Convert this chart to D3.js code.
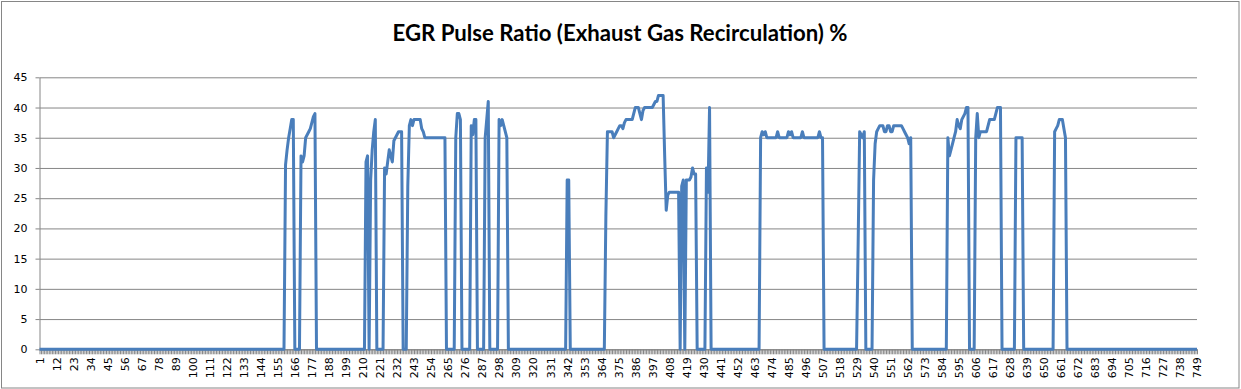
<!DOCTYPE html>
<html>
<head>
<meta charset="utf-8">
<script src="https://cdn.jsdelivr.net/npm/d3@7"></script>
<style>
  body { margin: 0; background: #fff; }
  .axis text { font-family: "DejaVu Sans", sans-serif; font-size: 11px; fill: #000; }
  .axis path, .axis line { stroke: #868686; }
</style>
</head>
<body>
<div id="chart-area"></div>
<script>
// Datos: 749 muestras, cero salvo en las ráfagas
const sampleCount = 749;
const burstStarts = [160, 170, 212, 224, 239, 270, 280, 289, 298, 342, 367, 432, 467, 530, 540, 588, 606, 632, 657];
const burstValues = [
  [30.5, 33, 35, 36.5, 38, 38],
  [32, 31, 32, 35, 35.5, 36, 36.5, 37.5, 38.5, 39],
  [31, 32, 0, 28, 33, 36, 38],
  [30, 29, 31, 33, 32, 31, 34.5, 35, 35.5, 36, 36, 36],
  [27, 37, 38, 37, 38, 38, 38, 38, 38, 36.5, 36, 35, 35, 35, 35, 35, 35, 35, 35, 35, 35, 35, 35, 35, 35],
  [35, 39, 39, 38],
  [37, 35.5, 38, 38],
  [35, 38, 41],
  [38, 37, 38, 37, 36, 35],
  [28, 28],
  [22, 36, 36, 36, 36, 35, 35.5, 36, 36.5, 37, 37, 36.5, 37.5, 38, 38, 38, 38, 38, 39, 40,
   40, 40, 39, 38, 39.5, 40, 40, 40, 40, 40, 40, 40.5, 41, 41, 42, 42, 42, 42, 32, 23,
   25.5, 26, 26, 26, 26, 26, 26, 26, 0, 27, 28, 0, 28, 28, 28, 28.5, 30, 29, 29],
  [30, 26, 40],
  [35, 36, 35.5, 36, 35, 35, 35, 35, 35, 35, 35, 36, 35, 35, 35, 35, 35, 35, 36, 35.5,
   36, 35, 35, 35, 35, 35, 35, 36, 35, 35, 35, 35, 35, 35, 35, 35, 35, 35, 36, 35, 35],
  [17, 36, 35.5, 35, 36],
  [28, 34, 36, 36.5, 37, 37, 37, 36, 36, 37, 37, 36, 36, 37, 37, 37, 37, 37, 37, 36.5, 36, 35.5, 35, 34, 35],
  [35, 32, 33, 34, 35, 36, 38, 37, 36.5, 38, 38.5, 39, 40, 40],
  [35, 39, 35, 36, 36, 36, 36, 36, 37, 38, 38, 38, 38, 39, 40, 40, 40],
  [35, 35, 35, 35, 35],
  [36, 36.5, 37, 38, 38, 38, 36.5, 35]
];
const yTicks = [0, 5, 10, 15, 20, 25, 30, 35, 40, 45];
const labelStep = 11;
const titleText = "EGR Pulse Ratio (Exhaust Gas Recirculation) %";

// Serie completa
const categories = d3.range(1, sampleCount + 1);
const data = categories.map(c => ({ cat: c, value: 0 }));
burstStarts.forEach((s, b) => {
  burstValues[b].forEach((v, k) => { data[s - 1 + k].value = v; });
});

// Lienzo
const W = 1241, H = 389;
const plot = { left: 39.5, right: 1197, top: 77.3, bottom: 349.3 };

const svg = d3.select("#chart-area")
  .append("svg")
  .attr("width", W)
  .attr("height", H);

svg.append("rect")
  .attr("x", 1.5).attr("y", 1.5)
  .attr("width", 1237.5).attr("height", 386.5)
  .attr("fill", "#fff")
  .attr("stroke", "#868686");

// Escalas
const x = d3.scalePoint().domain(categories).range([plot.left, plot.right]);
const y = d3.scaleLinear().domain([0, 45]).range([plot.bottom, plot.top]);

// Líneas de cuadrícula
svg.append("g")
  .attr("class", "axis grid")
  .attr("transform", `translate(${plot.left},0)`)
  .call(d3.axisLeft(y).tickValues(yTicks).tickSize(-(plot.right - plot.left)).tickFormat(""))
  .call(g => g.select(".domain").remove());

// Eje Y
svg.append("g")
  .attr("class", "axis")
  .attr("transform", `translate(${plot.left},0)`)
  .call(d3.axisLeft(y).tickValues(yTicks).tickSize(4).tickPadding(8).tickSizeOuter(0));

// Eje X: marcas en cada categoría
svg.append("g")
  .attr("class", "axis")
  .attr("transform", `translate(0,${plot.bottom})`)
  .call(d3.axisBottom(x).tickSize(5).tickSizeOuter(0).tickFormat(""));

// Eje X: etiquetas cada 11
const xLabels = svg.append("g")
  .attr("class", "axis")
  .attr("transform", `translate(0,${plot.bottom})`)
  .call(d3.axisBottom(x).tickValues(categories.filter(c => (c - 1) % labelStep === 0)).tickSize(0));
xLabels.select(".domain").remove();
xLabels.selectAll("text")
  .attr("transform", "rotate(-90)")
  .attr("text-anchor", "end")
  .attr("x", -8)
  .attr("y", 0)
  .attr("dy", "0.35em");

// Línea de datos
const line = d3.line()
  .x(d => x(d.cat))
  .y(d => y(d.value));

svg.append("path")
  .datum(data)
  .attr("fill", "none")
  .attr("stroke", "#4A7EBB")
  .attr("stroke-width", 3)
  .attr("stroke-linejoin", "round")
  .attr("d", line);

// Título
svg.append("text")
  .attr("x", 620)
  .attr("y", 41)
  .attr("text-anchor", "middle")
  .style("font-family", "Lato, 'Open Sans', sans-serif")
  .style("font-weight", "bold")
  .style("font-size", "22px")
  .attr("textLength", 455)
  .attr("lengthAdjust", "spacingAndGlyphs")
  .text(titleText);
</script>
</body>
</html>
